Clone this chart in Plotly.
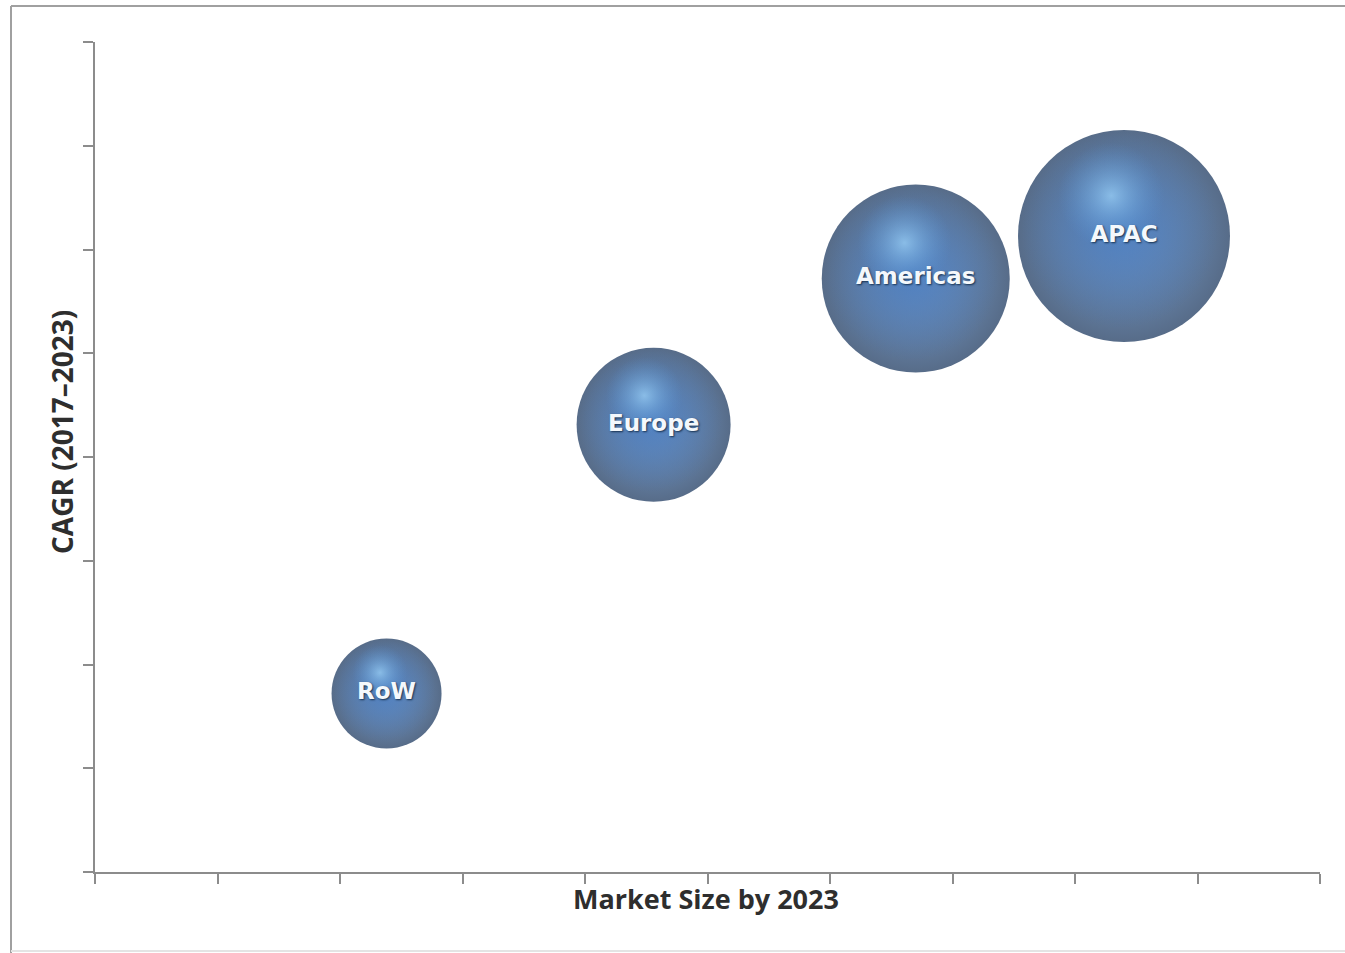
import plotly.graph_objects as go

regions = ["RoW", "Europe", "Americas", "APAC"]
market_size = [2.38, 4.56, 6.70, 8.40]
cagr = [1.72, 4.31, 5.72, 6.13]
bubble_value = [110, 154, 188, 212]

W, H = 1345, 953
ML, MR, MT, MB = 95, 25, 42, 81
XR = (0, 10)
YR = (0, 8)
PW = W - ML - MR
PH = H - MT - MB
py_per_unit = PH / (YR[1] - YR[0])
px_per_unit = PW / (XR[1] - XR[0])


def px(x_px):
    return (x_px - ML) / PW


def py(y_px):
    return (MT + PH - y_px) / PH


fig = go.Figure()

# base spheres (radial: centre = gradient colour, edge = marker colour)
fig.add_trace(go.Scatter(
    x=market_size, y=cagr, mode="markers",
    marker=dict(size=bubble_value, sizemode="diameter", color="#0f2d56",
                gradient=dict(type="radial", color="#3f78c0"),
                line=dict(width=0)),
    hoverinfo="skip", showlegend=False))

# inner body tone
fig.add_trace(go.Scatter(
    x=[m - 0.02 * s / px_per_unit for m, s in zip(market_size, bubble_value)],
    y=[c + 0.03 * s / py_per_unit for c, s in zip(cagr, bubble_value)],
    mode="markers",
    marker=dict(size=[s * 0.93 for s in bubble_value], sizemode="diameter",
                color="rgba(58,110,180,0)",
                gradient=dict(type="radial", color="rgba(60,112,182,1)"),
                line=dict(width=0)),
    hoverinfo="skip", showlegend=False))

# highlight
fig.add_trace(go.Scatter(
    x=[m - 0.06 * s / px_per_unit for m, s in zip(market_size, bubble_value)],
    y=[c + 0.19 * s / py_per_unit for c, s in zip(cagr, bubble_value)],
    mode="markers",
    marker=dict(size=[s * 0.5 for s in bubble_value], sizemode="diameter",
                color="rgba(90,150,215,0)",
                gradient=dict(type="radial", color="rgba(160,215,252,1)"),
                line=dict(width=0)),
    hoverinfo="skip", showlegend=False))

# labels
fig.add_trace(go.Scatter(
    x=market_size, y=cagr, mode="text", text=regions,
    textfont=dict(family="DejaVu Sans", size=23, color="#f4f8fc", weight="bold",
                  shadow="1px 1px 2px #16304f"),
    textposition="middle center",
    hoverinfo="skip", showlegend=False))

axis_common = dict(showgrid=False, zeroline=False, showline=True,
                   linecolor="#8c8c8c", linewidth=2, ticks="outside",
                   ticklen=10, tickwidth=2, tickcolor="#8c8c8c",
                   showticklabels=False, fixedrange=True)

fig.update_layout(
    width=W, height=H,
    margin=dict(l=ML, r=MR, t=MT, b=MB),
    paper_bgcolor="white", plot_bgcolor="white",
    xaxis=dict(range=XR, dtick=1, **axis_common),
    yaxis=dict(range=YR, dtick=1, **axis_common),
    shapes=[
        dict(type="line", xref="paper", yref="paper",
             x0=px(11), x1=px(1360), y0=py(6), y1=py(6),
             line=dict(color="#a0a0a0", width=2)),
        dict(type="line", xref="paper", yref="paper",
             x0=px(11), x1=px(11), y0=py(6), y1=py(953),
             line=dict(color="#a0a0a0", width=2)),
        dict(type="line", xref="paper", yref="paper",
             x0=px(11), x1=px(1360), y0=py(951), y1=py(951),
             line=dict(color="#e4e4e4", width=2)),
    ],
    annotations=[
        dict(text="Market Size by 2023", xref="paper", yref="paper",
             x=px(706), y=py(898), showarrow=False,
             font=dict(family="Open Sans", size=27, color="#2e2e2e", weight="bold"),
             xanchor="center", yanchor="middle"),
        dict(text="CAGR (2017\u20132023)", xref="paper", yref="paper",
             x=px(62), y=py(432), showarrow=False, textangle=-90,
             font=dict(family="Open Sans", size=28, color="#2e2e2e", weight="bold"),
             xanchor="center", yanchor="middle"),
    ],
)

fig.write_html("out.html", config={"displayModeBar": False},
               post_script="document.body.style.margin='0px';document.body.style.overflow='hidden';")
